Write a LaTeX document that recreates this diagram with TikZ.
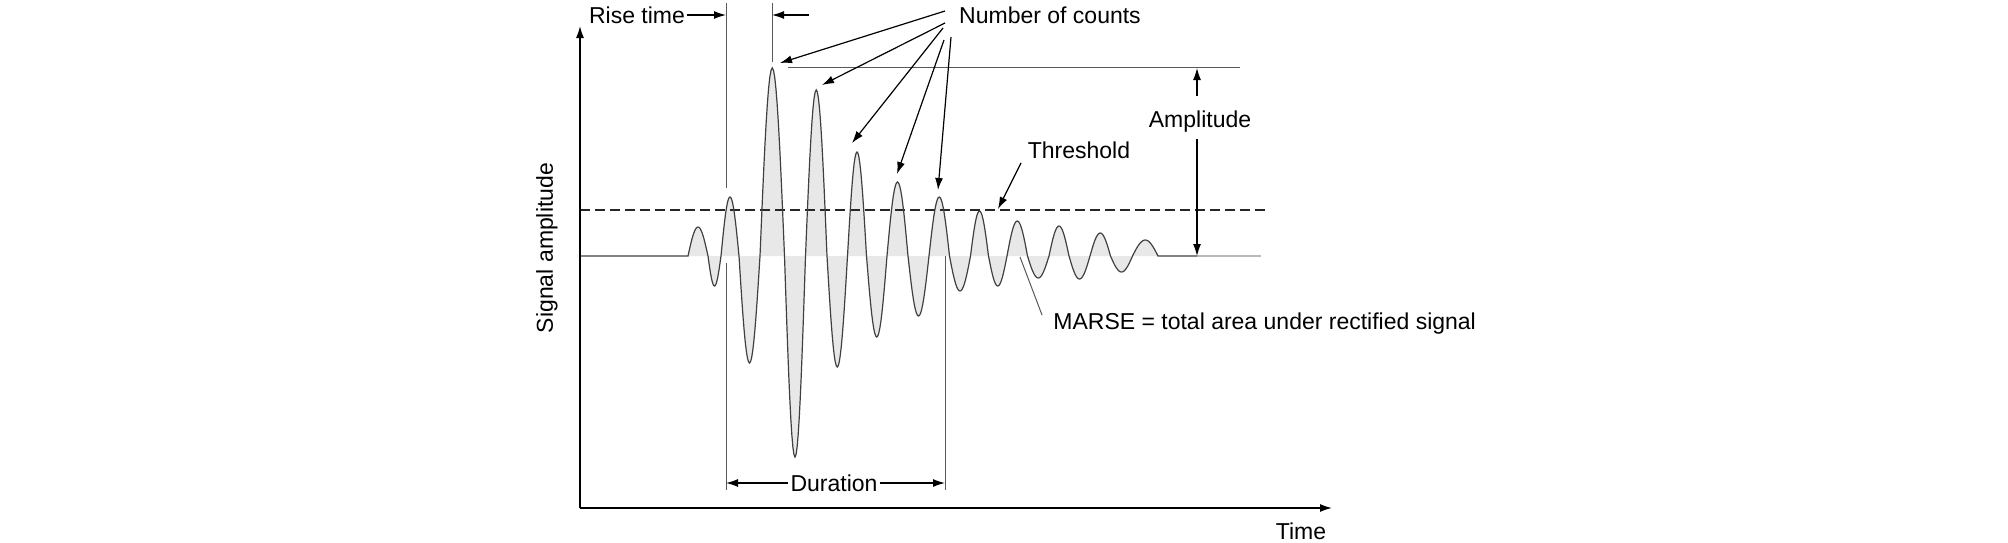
\documentclass[tikz,border=0pt]{standalone}
\usepackage{fontspec}
\setmainfont{Liberation Sans}
\usetikzlibrary{arrows.meta}

% half waves of the burst: left crossing / right crossing / height
\newcommand{\lobelist}{688/708/29, 708/721/-30, 721/739/59, 739/760/-107,
  760/784.5/188, 784.5/805.5/-201, 805.5/827/166, 827/847.5/-111,
  847.5/866.5/104, 866.5/887/-81, 887/908/74, 908/929/-60,
  929/949.5/59, 949.5/970.5/-35, 970.5/988.5/45, 988.5/1007/-30,
  1007/1027.5/35, 1027.5/1049/-22, 1049/1069/30, 1069/1090/-23,
  1090/1110.5/23, 1110.5/1132.5/-16, 1132.5/1158/16}

\begin{document}
\begin{tikzpicture}[x=0.5pt, y=-0.5pt, >={Latex[length=6pt,width=4pt]},
    every node/.style={font=\fontsize{11.5}{14}\selectfont, inner sep=1pt},
    guide/.style={gray!70!black, line width=0.5pt},
    pointer/.style={->, line width=0.6pt},
    signal/.style={black!75, line width=0.6pt}]

    \useasboundingbox (0,0) rectangle (2008,542);

    % Define the labels
    \node (rise) at (637,15) {Rise time};
    \node (counts) at (1050,15) {Number of counts};
    \node[anchor=base] (amp) at (1200,127) {Amplitude};
    \node (thresh) at (1079,150) {Threshold};
    \node[anchor=base west] (marse) at (1051,329) {MARSE = total area under rectified signal};
    \node (dur) at (834,483) {Duration};
    \node (time) at (1301,531) {Time};
    \node[rotate=90] (sig) at (547,248) {Signal amplitude};

    % Define the end points of the connectors
    \coordinate (O) at (580,508);
    \coordinate (ytop) at (580,26);
    \coordinate (xend) at (1332,508);
    \coordinate (riseL) at (726,15);
    \coordinate (riseRtail) at (809,15);
    \coordinate (riseR) at (772,15);
    \coordinate (durL) at (726,483);
    \coordinate (durR) at (945,483);
    \coordinate (ampup) at (1197,96);
    \coordinate (amptop) at (1197,68);
    \coordinate (ampdown) at (1197,139);
    \coordinate (ampbot) at (1197,256);
    \coordinate (thrtail) at (1021,163);
    \coordinate (thrtip) at (998,209);
    \coordinate (marsetail) at (1042,315);
    \coordinate (marsetip) at (1020,257);
    \coordinate (c1) at (945,11);
    \coordinate (c2) at (945,23);
    \coordinate (c3) at (943,28);
    \coordinate (c4) at (944,40);
    \coordinate (c5) at (951,37);
    \coordinate (pk1) at (780,63);
    \coordinate (pk2) at (822,85);
    \coordinate (pk3) at (852,143);
    \coordinate (pk4) at (897,174);
    \coordinate (pk5) at (938,190);

    % Fill the rectified area
    \fill[gray!18] (688,256) foreach \a/\b/\h in \lobelist {
        -- plot[domain=\a:\b, samples=21] (\x, {256-\h*sin(180*(\x-\a)/(\b-\a))})
    } -- cycle;

    % Draw the guide lines
    \draw[guide] (726,3) -- (726,188);
    \draw[guide] (726,263) -- (726,490);
    \draw[guide] (772,3) -- (772,62);
    \draw[guide] (945,256) -- (945,490);
    \draw[guide] (788,67) -- (1240,67);
    \draw[black!85, line width=0.6pt, dash pattern=on 5pt off 2.5pt] (580,210) -- (1268,210);

    % Draw the signal
    \draw[signal] (580,256) -- (688,256) foreach \a/\b/\h in \lobelist {
        -- plot[domain=\a:\b, samples=21] (\x, {256-\h*sin(180*(\x-\a)/(\b-\a))})
    } -- (1197,256);
    \draw[gray!55, line width=0.6pt] (1197,256) -- (1261,256);

    % Draw the axes
    \draw[->, line width=0.75pt] (O) -- (ytop);
    \draw[->, line width=0.75pt] (O) -- (xend);

    % Draw the dimension arrows
    \draw[pointer] (rise.east) -- (riseL);
    \draw[pointer] (riseRtail) -- (riseR);
    \draw[pointer] (dur.west) -- (durL);
    \draw[pointer] (dur.east) -- (durR);
    \draw[pointer] (ampup) -- (amptop);
    \draw[pointer] (ampdown) -- (ampbot);

    % Draw the pointers to the counts
    \draw[pointer] (c1) -- (pk1);
    \draw[pointer] (c2) -- (pk2);
    \draw[pointer] (c3) -- (pk3);
    \draw[pointer] (c4) -- (pk4);
    \draw[pointer] (c5) -- (pk5);

    % Draw the threshold and MARSE pointers
    \draw[pointer] (thrtail) -- (thrtip);
    \draw[line width=0.5pt, gray!70!black] (marsetail) -- (marsetip);

\end{tikzpicture}
\end{document}
